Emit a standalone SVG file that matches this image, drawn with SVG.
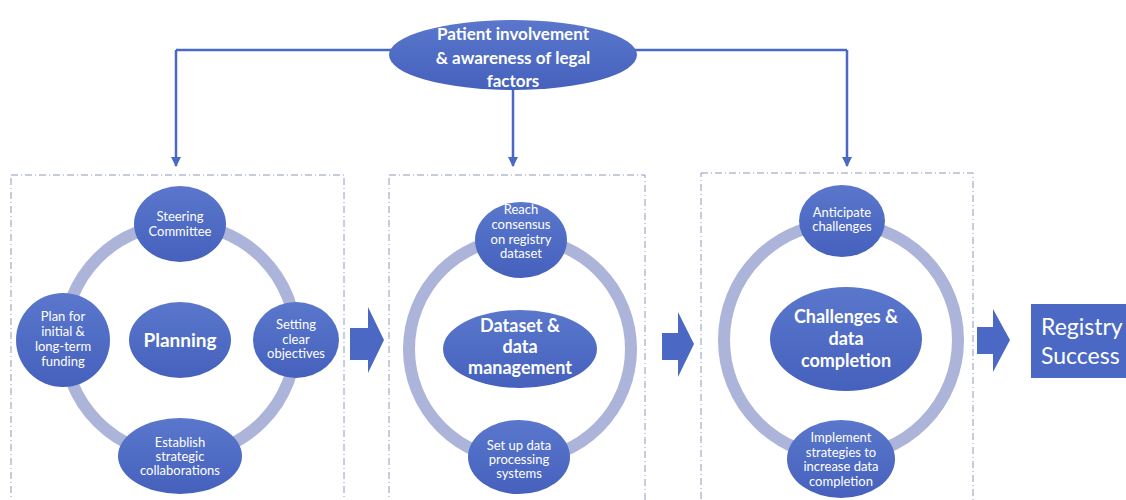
<svg xmlns="http://www.w3.org/2000/svg" width="1126" height="500" viewBox="0 0 1126 500">
<defs>
<linearGradient id="g" x1="0" y1="0" x2="0" y2="1">
<stop offset="0" stop-color="#5a77cc"/>
<stop offset="1" stop-color="#4561bd"/>
</linearGradient>
<marker id="ah" viewBox="0 0 10 10" refX="9" refY="5" markerWidth="4" markerHeight="4" orient="auto">
<path d="M0,0 L10,5 L0,10 z" fill="#4a68c6"/>
</marker>
<style>
.n{fill:url(#g);}
.ring{fill:none;stroke:#acb5d9;stroke-width:12;}
.box{fill:none;stroke:#8e9ac2;stroke-width:1;stroke-dasharray:7 3 1 3;}
.c{stroke:#4a68c6;stroke-width:2.5;fill:none;}
.blk{fill:#4b69c4;}
text{font-family:Lato,"Open Sans","Liberation Sans",sans-serif;fill:#fff;text-anchor:middle;}
.s{font-size:13px;}
.b{font-weight:bold;}
.m{font-size:18px;font-weight:bold;}
</style>
</defs>
<rect width="1126" height="500" fill="#fff"/>

<g id="connectors">
<polyline class="c" points="176,50 847,50"/>
<line class="c" x1="176" y1="50" x2="176" y2="166" marker-end="url(#ah)"/>
<line class="c" x1="847" y1="50" x2="847" y2="166" marker-end="url(#ah)"/>
<line class="c" x1="513" y1="88" x2="513" y2="166" marker-end="url(#ah)"/>
<polygon class="blk" points="350,328 368,328 368,307 384,340 368,373 368,360 350,360"/>
<polygon class="blk" points="662,333 678,333 678,312 694,344 678,377 678,360 662,360"/>
<polygon class="blk" points="977,327 993,327 993,309 1010,340 993,372 993,354 977,354"/>
</g>

<g id="patient">
<ellipse class="n" cx="513" cy="55" rx="124" ry="35"/>
<text class="b" font-size="17" x="513" y="40">Patient involvement</text>
<text class="b" font-size="17" x="513" y="64">&amp; awareness of legal</text>
<text class="b" font-size="17" x="513" y="87">factors</text>
</g>

<g id="planning-box">
<rect class="box" x="11" y="175" width="333" height="330"/>
<circle class="ring" cx="180" cy="340" r="116"/>
<g id="planning"><ellipse class="n" cx="180" cy="340" rx="51" ry="38"/><text class="b" font-size="19" x="180" y="347">Planning</text></g>
<g id="steering"><ellipse class="n" cx="180" cy="224" rx="46" ry="38"/><text class="s" x="180" y="221">Steering</text><text class="s" x="180" y="236">Committee</text></g>
<g id="funding"><ellipse class="n" cx="63" cy="340" rx="47" ry="47"/><text class="s" x="63" y="321">Plan for</text><text class="s" x="63" y="336">initial &amp;</text><text class="s" x="63" y="351">long-term</text><text class="s" x="63" y="366">funding</text></g>
<g id="objectives"><ellipse class="n" cx="296" cy="340" rx="43" ry="38"/><text class="s" x="296" y="329">Setting</text><text class="s" x="296" y="344">clear</text><text class="s" x="296" y="358">objectives</text></g>
<g id="collab"><ellipse class="n" cx="180" cy="456" rx="62" ry="38"/><text class="s" x="180" y="447">Establish</text><text class="s" x="180" y="461">strategic</text><text class="s" x="180" y="475">collaborations</text></g>
</g>

<g id="dataset-box">
<rect class="box" x="389" y="175" width="256" height="330"/>
<circle class="ring" cx="520" cy="349" r="111"/>
<g id="dataset"><ellipse class="n" cx="520" cy="349" rx="77" ry="39"/><text class="m" x="520" y="332">Dataset &amp;</text><text class="m" x="520" y="353">data</text><text class="m" x="520" y="374">management</text></g>
<g id="consensus"><ellipse class="n" cx="521" cy="240" rx="46" ry="38"/><text class="s" x="521" y="214">Reach</text><text class="s" x="521" y="229">consensus</text><text class="s" x="521" y="244">on registry</text><text class="s" x="521" y="258">dataset</text></g>
<g id="processing"><ellipse class="n" cx="519" cy="457" rx="51" ry="37"/><text class="s" x="519" y="450">Set up data</text><text class="s" x="519" y="464">processing</text><text class="s" x="519" y="478">systems</text></g>
</g>

<g id="challenges-box">
<rect class="box" x="701" y="173" width="272" height="332"/>
<circle class="ring" cx="841" cy="340" r="117"/>
<g id="challenges"><ellipse class="n" cx="846" cy="339" rx="76" ry="52"/><text class="m" x="846" y="323">Challenges &amp;</text><text class="m" x="846" y="345">data</text><text class="m" x="846" y="367">completion</text></g>
<g id="anticipate"><ellipse class="n" cx="842" cy="221" rx="43" ry="36"/><text class="s" x="842" y="217">Anticipate</text><text class="s" x="842" y="231">challenges</text></g>
<g id="implement"><ellipse class="n" cx="841" cy="459" rx="54" ry="39"/><text class="s" x="841" y="442">Implement</text><text class="s" x="841" y="457">strategies to</text><text class="s" x="841" y="471">increase data</text><text class="s" x="841" y="486">completion</text></g>
</g>

<g id="registry">
<rect x="1031" y="304" width="100" height="74" fill="#4b69c4"/>
<text font-size="23" x="1041" y="335" text-anchor="start" style="text-anchor:start">Registry</text>
<text font-size="23" x="1041" y="364" style="text-anchor:start">Success</text>
</g>
</svg>
